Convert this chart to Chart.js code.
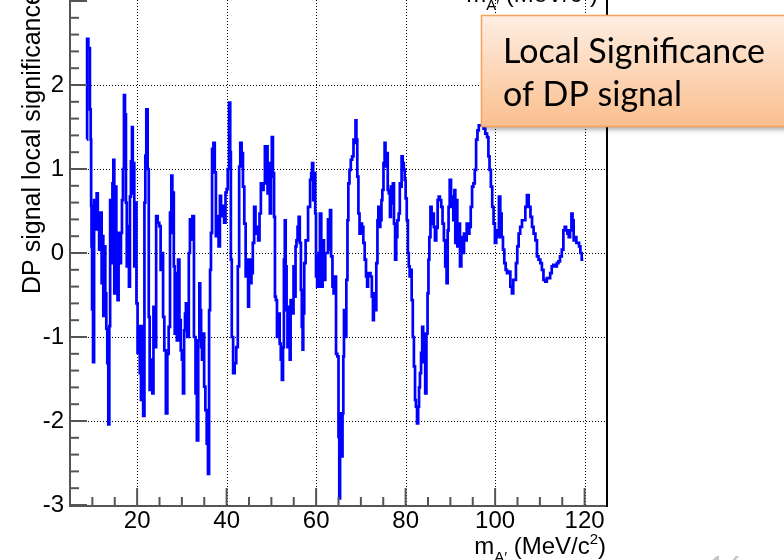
<!DOCTYPE html>
<html><head><meta charset="utf-8">
<script src="https://cdn.jsdelivr.net/npm/chart.js@4/dist/chart.umd.min.js"></script>
<style>html,body{margin:0;padding:0;background:#fff;overflow:hidden}#wrap{width:784px;height:560px;position:relative}</style>
</head><body><div id="wrap"><canvas id="c" width="784" height="560"></canvas></div>
<script>
// ---- data ----
const massMeV = [
 8.8,8.85,9.35,9.55,9.7,9.75,9.87,10.0,10.3,10.47,10.7,10.85,11.06,11.36,11.66,11.96,12.18,12.33,12.55,12.78,
 13.0,13.22,13.45,13.67,13.9,14.04,14.27,14.4,14.56,14.8,15.0,15.2,15.5,15.75,15.97,16.28,16.5,16.72,16.95,17.17,
 17.4,17.6,17.77,18.06,18.29,18.5,18.73,18.96,19.1,19.25,19.48,19.7,20.0,20.2,20.45,20.74,20.97,21.2,21.5,21.76,
 21.9,22.2,22.5,22.7,22.9,23.3,23.5,23.8,24.1,24.4,24.8,25.1,25.4,25.7,25.9,26.25,26.6,26.9,27.2,27.5,
 27.8,27.95,28.1,28.3,28.5,28.75,29.0,29.3,29.6,29.9,30.1,30.4,30.6,30.8,31.0,31.4,31.7,31.9,32.2,32.5,
 32.9,33.2,33.5,33.8,34.0,34.2,34.4,34.6,34.85,35.1,35.4,35.7,35.96,36.2,36.4,36.6,36.9,37.2,37.5,37.7,
 38.0,38.4,38.6,38.9,39.3,39.6,39.9,40.1,40.4,40.7,40.9,41.0,41.3,41.6,42.0,42.3,42.7,42.9,43.2,43.5,
 43.8,44.1,44.4,44.7,44.9,45.1,45.4,45.7,46.0,46.3,46.6,46.9,47.2,47.5,47.8,48.1,48.4,48.7,49.0,49.3,
 49.5,49.8,50.0,50.2,50.5,50.7,50.9,51.1,51.4,51.7,52.0,52.2,52.5,52.7,52.9,53.1,53.3,53.5,53.7,54.0,
 54.2,54.4,54.6,54.8,55.1,55.3,55.5,55.7,56.0,56.2,56.5,56.7,56.9,57.05,57.2,57.5,57.8,58.1,58.3,58.5,
 58.8,59.0,59.2,59.5,59.7,59.9,60.05,60.4,60.7,61.0,61.3,61.6,61.9,62.2,62.5,62.8,63.0,63.2,63.5,63.8,
 64.0,64.3,64.6,64.9,65.1,65.25,65.45,65.6,65.8,66.0,66.15,66.3,66.6,66.9,67.1,67.3,67.6,67.9,68.2,68.5,
 68.7,68.9,69.1,69.3,69.6,69.8,70.1,70.4,70.7,71.0,71.3,71.5,71.7,72.0,72.3,72.6,72.8,73.0,73.3,73.6,
 73.8,74.0,74.2,74.5,74.7,74.9,75.2,75.4,75.6,75.9,76.1,76.4,76.6,76.8,77.0,77.3,77.5,77.8,78.0,78.3,
 78.6,78.8,79.0,79.2,79.5,79.7,79.9,80.1,80.4,80.6,80.8,81.0,81.2,81.5,81.7,82.0,82.2,82.4,82.7,82.9,
 83.1,83.3,83.6,83.8,84.05,84.25,84.5,84.8,85.0,85.2,85.4,85.7,85.9,86.2,86.4,86.7,87.0,87.3,87.5,87.8,
 88.1,88.4,88.7,89.0,89.3,89.5,89.7,90.0,90.3,90.5,90.8,91.0,91.2,91.4,91.7,92.0,92.3,92.6,92.9,93.2,
 93.5,93.8,94.1,94.4,94.7,95.0,95.3,95.6,95.9,96.2,96.5,96.9,97.2,97.6,98.0,98.4,98.6,98.9,99.2,99.5,
 99.8,100.1,100.4,100.7,101.0,101.3,101.6,101.9,102.2,102.5,102.8,103.2,103.6,103.9,104.2,104.5,104.8,105.1,105.4,105.8,
 106.2,106.6,106.9,107.3,107.7,108.1,108.4,108.8,109.2,109.5,109.9,110.3,110.6,111.0,111.4,111.7,112.1,112.5,112.8,113.2,
 113.6,114.0,114.3,114.7,115.1,115.4,115.7,116.0,116.3,116.6,116.9,117.2,117.4,117.7,118.0,118.3,118.6,118.9,119.2,119.5,
 119.7
];
const localSignificance = [
 1.35,2.55,2.44,1.71,1.35,0.56,0.08,-0.67,-1.30,0.63,0.56,0.28,0.71,0.32,0.04,0.48,-0.36,0.2,-0.75,0.08,
 -0.48,-0.9,-1.31,-2.04,-0.87,0.63,0.4,-0.12,0.83,1.11,-0.48,0.79,0.24,-0.56,0.24,-0.12,0.24,0.63,1.0,1.88,
 1.65,0.6,-0.16,0.32,-0.4,0.67,1.09,1.5,0.71,1.07,-0.16,0.6,-0.6,-1.19,-0.87,-1.43,-1.75,-0.87,-1.94,0.6,
 1.16,1.71,1.0,-0.76,-1.63,-1.27,-1.67,-0.64,-1.12,0.44,0.36,0.32,-0.2,0,-0.76,-1.16,-1.91,-1.2,-0.88,0.48,
 0.92,0.24,0.72,-0.16,-0.96,-0.24,-1.04,-0.08,-0.8,-1.16,-1.27,-1.67,-0.92,-0.72,-0.6,-1.0,0,0.4,0.16,0.44,
 -1.0,-1.67,-2.23,-1.04,-0.36,-0.68,-1.12,-1.27,-0.96,-1.59,-1.87,-2.27,-2.63,-0.68,-0.2,0.24,1.24,1.31,0.96,0.2,
 0.44,0.08,0.68,0.44,0.56,0.36,0.72,0.76,1.0,1.79,1.2,-0.08,-1.0,-1.43,-1.31,-1.12,-0.16,1.03,1.31,1.19,
 0.79,0.35,-0.28,-0.08,-0.64,-0.08,-0.36,-0.24,0.12,0.55,0.23,0.31,0.15,0.47,0.83,0.75,0.83,1.27,1.27,0.71,
 1.07,0.47,0.91,1.38,0.95,0.43,-0.52,-0.56,-1.0,-0.72,-1.08,-1.27,-1.51,-1.12,-0.08,0.39,-0.16,-0.68,-1.12,-0.64,
 -1.27,-0.56,-0.64,-0.72,-0.16,-0.52,0.08,0.15,0.31,0.43,0.12,-0.44,-0.88,-1.15,-0.72,-0.12,0.15,0.15,0.55,0.55,
 0.87,0.95,1.07,0.63,0.95,0.47,-0.28,-0.4,0,0.47,-0.4,0.15,-0.32,0,0,0.4,0.04,0.51,-0.04,-0.4,
 -0.48,-0.28,-1.2,-1.23,-2.19,-2.92,-2.23,-1.91,-2.42,-1.91,-1.23,-0.68,-1.0,-0.32,0.39,0.83,0.99,1.11,1.15,1.35,
 1.31,1.58,1.35,0.91,0.47,0.23,0.35,0.31,0.12,-0.08,-0.28,-0.4,-0.24,-0.24,-0.28,-0.52,-0.8,-0.48,-0.68,-0.12,
 0.39,0.55,0.31,0.39,0.63,0.75,1.07,1.31,1.03,1.19,0.75,0.71,0.43,0.79,0.59,0.83,0.35,-0.08,0.19,0.39,
 0.47,0.83,0.79,1.15,1.07,0.99,0.87,0.65,0.39,0,-0.16,-0.28,-0.2,-0.56,-1.0,-1.35,-1.75,-1.83,-2.03,-1.83,
 -1.6,-1.43,-1.19,-0.88,-1.3,-0.96,-1.67,-0.96,-0.48,-0.08,0.19,0.55,0.35,0.47,0.31,0.15,0.3,0.63,0.67,0.63,
 0.55,0.35,0.15,-0.16,-0.36,0.27,0.55,0.87,0.55,0.67,0.39,0.75,0.12,0.63,0.08,0.35,-0.16,0.19,0,0.23,
 0.15,0.35,0.23,0.31,0.55,0.79,0.83,0.99,1.35,1.46,1.52,1.52,1.52,1.48,1.42,1.38,1.15,0.99,0.79,0.55,
 0.35,0.12,0.27,0.19,0.67,0.47,0.19,0.04,-0.12,-0.2,-0.24,-0.22,-0.4,-0.48,-0.32,-0.32,-0.12,0.08,0.23,0.31,
 0.39,0.39,0.55,0.69,0.55,0.43,0.31,0.23,0.15,-0.04,-0.08,-0.12,-0.2,-0.32,-0.34,-0.3,-0.3,-0.24,-0.16,-0.14,
 -0.16,-0.12,-0.1,-0.04,0.04,0.27,0.31,0.27,0.23,0.19,0.27,0.47,0.39,0.15,0.19,0.12,0.12,0.08,0,-0.08,
 -0.08
];
const xTickValues = [20, 40, 60, 80, 100, 120];
const yTickValues = [-3, -2, -1, 0, 1, 2];
const xGridValues = [20, 40, 60, 80, 100, 120];
const yGridValues = [-2, -1, 0, 1, 2];
const yAxisTitle = 'DP signal local significance';
const noteLines = ['Local Significance', 'of DP signal'];
const pageNumber = '16';

const FONT = '"Liberation Sans", Arial, Helvetica, sans-serif';
const NOTE_FONT = 'Lato, "Open Sans", sans-serif';

function drawMassTitle(ctx, right, base, size) {
  const sub = Math.round(size * 0.62);
  const parts = [
    {t: 'm', s: size, dy: 0},
    {t: 'A\u2032', s: sub, dy: size * 0.33},
    {t: ' (MeV/c', s: size, dy: 0},
    {t: '2', s: sub, dy: -size * 0.42},
    {t: ')', s: size, dy: 0}
  ];
  let total = 0;
  parts.forEach(p => { ctx.font = p.s + 'px ' + FONT; p.w = ctx.measureText(p.t).width; total += p.w; });
  let x = right - total;
  ctx.textAlign = 'left'; ctx.textBaseline = 'alphabetic'; ctx.fillStyle = '#000';
  parts.forEach(p => { ctx.font = p.s + 'px ' + FONT; ctx.fillText(p.t, x, base + p.dy); x += p.w; });
}

const rootFrame = {
  id: 'rootFrame',
  beforeDatasetsDraw(chart) {
    const {ctx, chartArea: a, scales: {x, y}} = chart;
    ctx.save();
    ctx.strokeStyle = '#000'; ctx.lineWidth = 1; ctx.setLineDash([1, 2]);
    xGridValues.forEach(v => {
      const px = Math.round(x.getPixelForValue(v)) + 0.5;
      ctx.beginPath(); ctx.moveTo(px, 0); ctx.lineTo(px, a.bottom); ctx.stroke();
    });
    yGridValues.forEach(v => {
      const py = Math.round(y.getPixelForValue(v)) + 0.5;
      ctx.beginPath(); ctx.moveTo(a.left, py); ctx.lineTo(a.right, py); ctx.stroke();
    });
    ctx.restore();
  },
  afterDatasetsDraw(chart) {
    const {ctx, chartArea: a, scales: {x, y}} = chart;
    ctx.save();
    ctx.lineWidth = 2; ctx.strokeStyle = '#555';
    for (let v = 5; v <= 125; v += 5) {
      const px = x.getPixelForValue(v);
      const len = (v % 20 === 0) ? 17 : 8;
      ctx.beginPath(); ctx.moveTo(px, a.bottom); ctx.lineTo(px, a.bottom - len); ctx.stroke();
    }
    for (let k = -15; k <= 15; k++) {
      const v = k / 5;
      const py = y.getPixelForValue(v);
      const len = (k % 5 === 0) ? 17 : 9;
      ctx.beginPath(); ctx.moveTo(a.left, py); ctx.lineTo(a.left + len, py); ctx.stroke();
    }
    ctx.beginPath(); ctx.moveTo(a.left, 0); ctx.lineTo(a.left, a.bottom + 1); ctx.lineTo(a.right, a.bottom + 1); ctx.stroke();
    ctx.strokeStyle = '#000';
    ctx.beginPath(); ctx.moveTo(a.right, 0); ctx.lineTo(a.right, a.bottom + 2); ctx.stroke();
    ctx.restore();
  },
  afterDraw(chart) {
    const {ctx} = chart;
    ctx.save();
    ctx.save();
    ctx.translate(40, 294);
    ctx.rotate(-Math.PI / 2);
    ctx.font = '25px ' + FONT; ctx.fillStyle = '#000';
    ctx.textAlign = 'left'; ctx.textBaseline = 'alphabetic';
    ctx.fillText(yAxisTitle, 0, 0);
    ctx.restore();
    drawMassTitle(ctx, 606, 554, 24);
    drawMassTitle(ctx, 598, 2, 24);
    const bx = 481.5, by = 15.5, bw = 320, bh = 111;
    ctx.save();
    ctx.shadowColor = 'rgba(0,0,0,0.35)'; ctx.shadowBlur = 5; ctx.shadowOffsetX = 2; ctx.shadowOffsetY = 3;
    const g = ctx.createLinearGradient(0, by, 0, by + bh);
    g.addColorStop(0, '#feeee2'); g.addColorStop(1, '#fabf8e');
    ctx.fillStyle = g; ctx.fillRect(bx, by, bw, bh);
    ctx.restore();
    ctx.strokeStyle = '#f6a25c'; ctx.lineWidth = 1.5; ctx.strokeRect(bx, by, bw, bh);
    ctx.fillStyle = '#000'; ctx.textAlign = 'left'; ctx.textBaseline = 'alphabetic';
    ctx.font = '30px ' + NOTE_FONT;
    const w0 = ctx.measureText(noteLines[0]).width;
    const fs = 30 * 262 / w0;
    ctx.font = fs.toFixed(1) + 'px ' + NOTE_FONT;
    ctx.fillText(noteLines[0], 503, 63);
    ctx.fillText(noteLines[1], 503, 106);
    ctx.fillStyle = '#c4c4c4'; ctx.font = '30px ' + NOTE_FONT;
    ctx.fillText(pageNumber, 708, 578);
    ctx.restore();
  }
};

new Chart(document.getElementById('c'), {
  type: 'line',
  data: {
    datasets: [{
      data: massMeV.map((m, i) => ({x: m, y: localSignificance[i]})),
      borderColor: '#0000ff', borderWidth: 2.7, pointRadius: 0, fill: false,
      stepped: 'middle', tension: 0
    }]
  },
  options: {
    responsive: false, animation: false, devicePixelRatio: 1,
    layout: {padding: {top: 1, right: 177, left: 0, bottom: 0}},
    plugins: {legend: {display: false}, tooltip: {enabled: false}},
    scales: {
      x: {
        type: 'linear', min: 5, max: 125,
        grid: {display: false, drawTicks: false}, border: {display: false},
        afterBuildTicks: s => { s.ticks = xTickValues.map(v => ({value: v})); },
        afterFit: s => { s.height = 55; s.paddingLeft = 0; s.paddingRight = 0; },
        ticks: {autoSkip: false, maxRotation: 0, padding: 2, color: '#000',
                font: {family: FONT, size: 24}, callback: v => String(v)}
      },
      y: {
        type: 'linear', min: -3, max: 3,
        grid: {display: false, drawTicks: false}, border: {display: false},
        afterBuildTicks: s => { s.ticks = yTickValues.map(v => ({value: v})); },
        afterFit: s => { s.width = 70; s.paddingTop = 0; s.paddingBottom = 0; },
        ticks: {autoSkip: false, padding: 6, color: '#000',
                font: {family: FONT, size: 24}, callback: v => String(v)}
      }
    }
  },
  plugins: [rootFrame]
});
</script>
</body></html>
